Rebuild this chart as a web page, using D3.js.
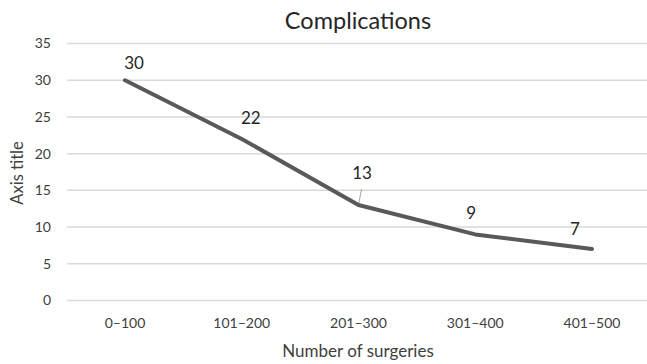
<!DOCTYPE html>
<html><head><meta charset="utf-8">
<script src="https://cdn.jsdelivr.net/npm/d3@7"></script>
<style>body{margin:0;background:#fff;}svg{display:block;font-family:Lato,"Open Sans",sans-serif;}</style>
</head><body>
<script>
const categories = ["0–100","101–200","201–300","301–400","401–500"];
const values = [30,22,13,9,7];
const yTicks = [0,5,10,15,20,25,30,35];
const titleText = "Complications";
const xTitle = "Number of surgeries";
const yTitle = "Axis title";
// label placement offsets (dx, dy) relative to point
const labelDx = [9,9,3.5,-4,-17];
const labelDy = [-17,-21,-32,-21,-20];

const W=647,H=364;
const svg=d3.select("body").append("svg").attr("width",W).attr("height",H);
const x=d3.scalePoint().domain(categories).range([125,592]);
const y=d3.scaleLinear().domain([0,35]).range([300.5,43.5]);

svg.append("g").selectAll("line").data(yTicks).join("line")
 .attr("x1",67).attr("x2",647).attr("y1",d=>y(d)).attr("y2",d=>y(d))
 .attr("stroke","#d9d9d9").attr("stroke-width",1.5);

svg.append("g").selectAll("text").data(yTicks).join("text")
 .attr("x",51).attr("y",d=>y(d)).attr("dy","0.35em").attr("text-anchor","end")
 .attr("font-size",14).attr("fill","#404040").text(d=>d);

svg.append("g").selectAll("text").data(categories).join("text")
 .attr("x",d=>x(d)).attr("y",328).attr("text-anchor","middle")
 .attr("font-size",14).attr("fill","#404040").text(d=>d);

svg.append("text").attr("x",358).attr("y",357).attr("text-anchor","middle")
 .attr("font-size",17).attr("fill","#404040").text(xTitle);
svg.append("text").attr("transform","translate(23,173) rotate(-90)").attr("text-anchor","middle")
 .attr("font-size",16.5).attr("fill","#404040").text(yTitle);
svg.append("text").attr("x",358).attr("y",29).attr("text-anchor","middle")
 .attr("font-size",23.5).attr("fill","#262626").text(titleText);

const pts=categories.map((c,i)=>({c,v:values[i],i}));
// leader line for third label
svg.append("line").attr("x1",x(categories[2])+3).attr("y1",y(values[2])-16)
 .attr("x2",x(categories[2])).attr("y2",y(values[2]))
 .attr("stroke","#a6a6a6").attr("stroke-width",1);

svg.append("path").datum(pts)
 .attr("d",d3.line().x(d=>x(d.c)).y(d=>y(d.v)))
 .attr("fill","none").attr("stroke","#595959").attr("stroke-width",4).attr("stroke-linecap","round").attr("stroke-linejoin","round");

svg.append("g").selectAll("text").data(pts).join("text")
 .attr("x",d=>x(d.c)+labelDx[d.i]).attr("y",d=>y(d.v)+labelDy[d.i]).attr("dy","0.35em")
 .attr("text-anchor","middle").attr("font-size",17).attr("fill","#262626").text(d=>d.v);
</script>
</body></html>
